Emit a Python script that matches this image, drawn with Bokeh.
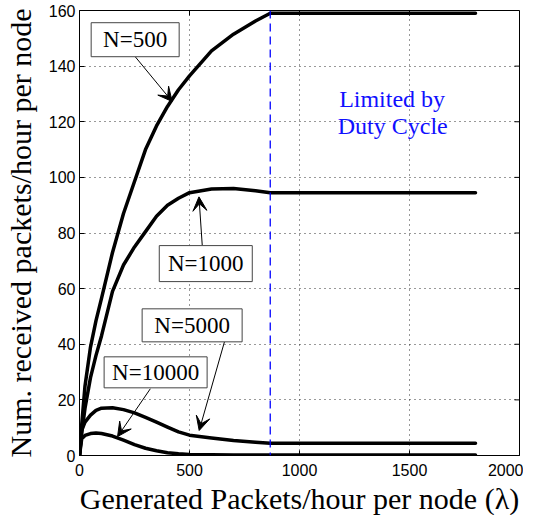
import math
from bokeh.plotting import figure
from bokeh.models import Range1d, FixedTicker, Arrow, VeeHead, Span, ColumnDataSource
from bokeh.core.properties import value
from bokeh.embed import file_html
from bokeh.resources import INLINE

# ---- data ----
lam = [0, 10, 25, 50, 75, 100, 150, 200, 250, 300, 350, 400, 450, 500, 600, 700, 800, 867, 1800]
n500 = [0, 11, 25, 39, 48.5, 56.5, 73, 87, 98.5, 110, 118.5, 125.5, 131.5, 136.5, 145.5, 151.5, 156.2, 159, 159]
n1000 = [0, 8, 17, 28, 36, 43, 59, 68.5, 75, 80.5, 86, 90, 92.5, 94.5, 95.8, 96, 95.2, 94.5, 94.5]
n5000 = [0, 9, 12, 14.5, 16.2, 17, 17.2, 16.5, 15.3, 13.7, 12, 10.2, 8.5, 7.3, 6.3, 5.4, 4.8, 4.4, 4.4]
n10000 = [0, 6, 7.2, 7.9, 8.1, 7.9, 7.0, 5.5, 3.9, 2.6, 1.7, 1.0, 0.6, 0.4, 0.25, 0.2, 0.2, 0.2, 0.2]
duty_cycle_limit = 867

x_ticks = [0, 500, 1000, 1500, 2000]
y_ticks = [0, 20, 40, 60, 80, 100, 120, 140, 160]
X_MAX = 2000
Y_MAX = 160

labels = ["N=500", "N=1000", "N=5000", "N=10000"]

SERIF = "Liberation Serif"
SANS = "Liberation Sans"

p = figure(frame_width=440, frame_height=445, output_backend="svg", toolbar_location=None,
           x_range=Range1d(0, X_MAX), y_range=Range1d(0, Y_MAX),
           min_border_left=74, min_border_right=4, min_border_top=10, min_border_bottom=44)

p.outline_line_color = "black"
p.outline_line_width = 1
p.background_fill_color = "white"
p.border_fill_color = "white"

for ax, tk in ((p.xaxis[0], x_ticks), (p.yaxis[0], y_ticks)):
    ax.ticker = FixedTicker(ticks=tk)
    ax.major_tick_in = 5
    ax.major_tick_out = 0
    ax.minor_tick_line_color = None
    ax.axis_line_color = "black"
    ax.major_label_text_font = SANS
    ax.major_label_text_font_size = "16px"
    ax.major_label_text_color = "black"
    ax.axis_label_text_font = SERIF
    ax.axis_label_text_font_size = "30px"
    ax.axis_label_text_font_style = "normal"
    ax.axis_label_text_color = "black"

p.xaxis.major_label_standoff = 8
p.yaxis.major_label_standoff = 4
p.xaxis.axis_label_standoff = 3
p.yaxis.axis_label_standoff = 9
p.xaxis.axis_label = "Generated Packets/hour per node (\u03bb)"
p.yaxis.axis_label = "Num. received packets/hour per node"

# mirrored inward ticks on top and right edges (MATLAB box)
p.ray(x=x_ticks, y=[Y_MAX] * len(x_ticks), length=5, length_units="screen",
      angle=-math.pi / 2, line_color="black", line_width=1)
p.ray(x=[X_MAX] * len(y_ticks), y=y_ticks, length=5, length_units="screen",
      angle=math.pi, line_color="black", line_width=1)

p.xgrid.ticker = FixedTicker(ticks=x_ticks)
p.ygrid.ticker = FixedTicker(ticks=y_ticks)
for g in (p.xgrid[0], p.ygrid[0]):
    g.grid_line_color = "#333333"
    g.grid_line_dash = "1 4"
    g.grid_line_width = 1

# curves
for ys in (n500, n1000, n5000, n10000):
    p.line(lam, ys, line_color="black", line_width=3.5, line_join="round", line_cap="round")

# duty cycle limit
p.add_layout(Span(location=duty_cycle_limit, dimension="height", line_color="#0000ff",
                  line_dash="8 5", line_width=1.3))

# annotation arrows (start at box edge, end at curve)
arrows = [
    (253, 143.4, 421, 127.3),
    (558, 75.5, 543, 93),
    (659, 40.9, 544, 9.0),
    (322, 24.0, 173, 6.8),
]
for x0, y0, x1, y1 in arrows:
    p.add_layout(Arrow(x_start=x0, y_start=y0, x_end=x1, y_end=y1, line_width=1, line_color="black",
                       end=VeeHead(size=14, fill_color="black", line_color="black", line_width=1)))

# label boxes
box_x = [253, 574, 512, 346]
box_y = [149.5, 69, 46.8, 29.9]
box_w = [88, 93, 100, 103]
box_h = [34, 36, 33, 31]
src = ColumnDataSource(dict(x=box_x, y=box_y, w=box_w, h=box_h, t=labels))
p.rect(x="x", y="y", width="w", height="h", width_units="screen", height_units="screen",
       source=src, fill_color="white", line_color="#444444", line_width=1, level="overlay")
p.text(x="x", y="y", text="t", source=src, text_font=value(SERIF), text_font_size="23px",
       text_align="center", text_baseline="middle", text_color="black", level="overlay")

p.text(x=[1421, 1424], y=[128.3, 118.6], text=["Limited by", "Duty Cycle"],
       text_font=value(SERIF), text_font_size="24px", text_align="center",
       text_baseline="middle", text_color="#1010ff")

open("out.html", "w").write(file_html(p, INLINE))
